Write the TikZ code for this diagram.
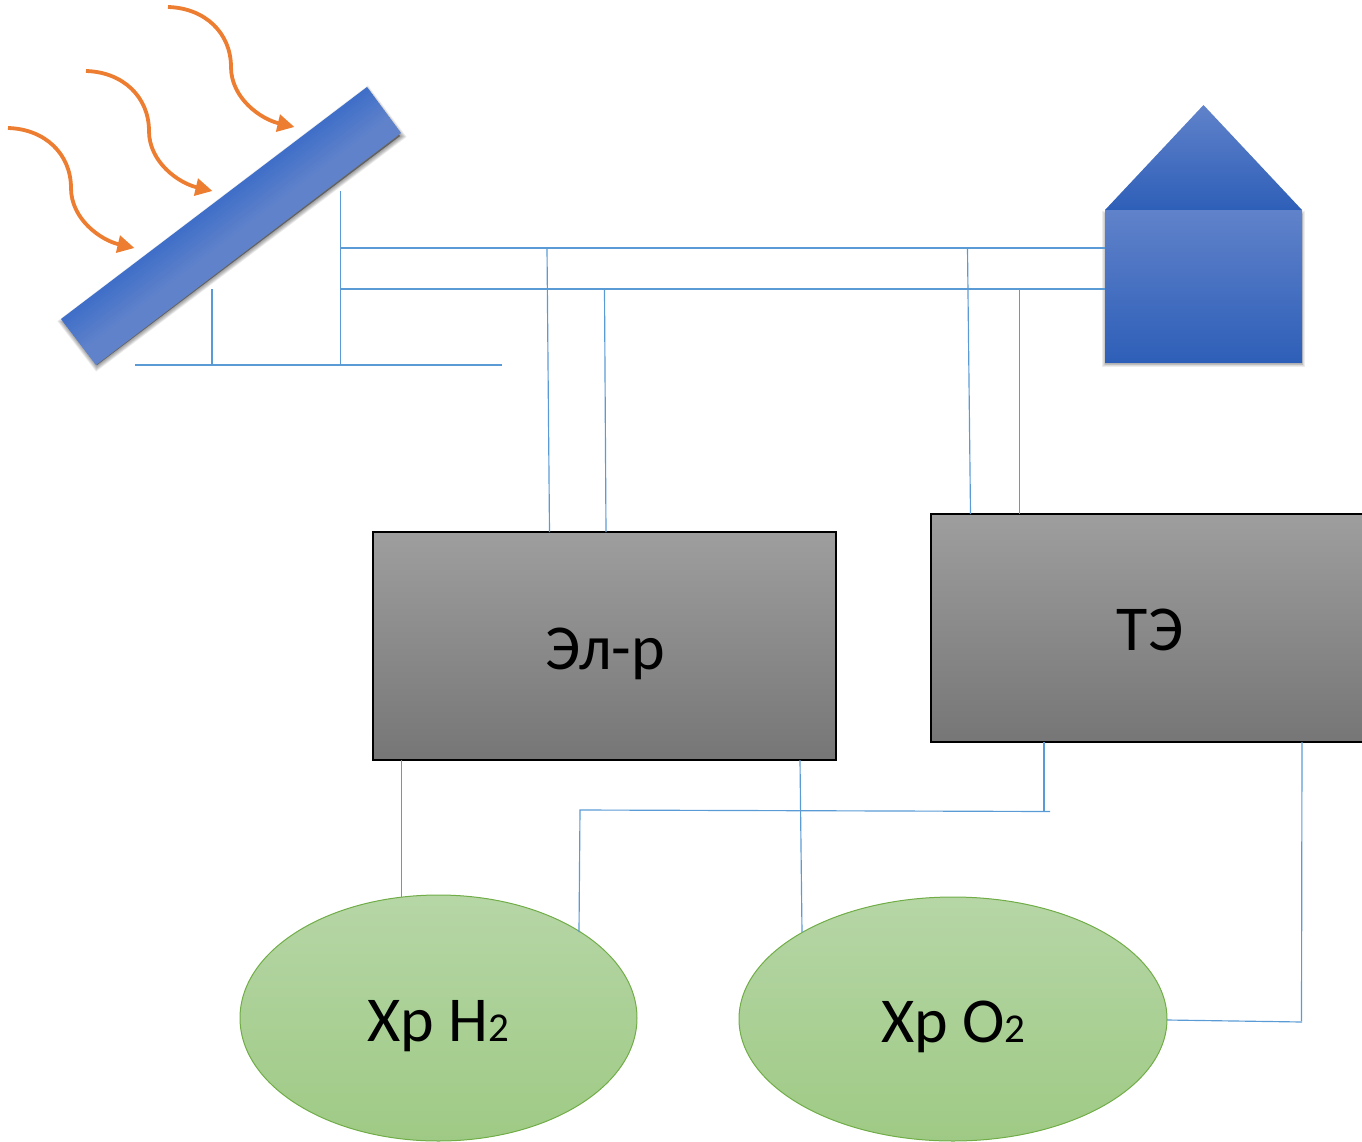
\documentclass[tikz,border=0pt]{standalone}
\usepackage{fontspec}
\setmainfont{Carlito}
\usetikzlibrary{arrows.meta,shapes.geometric,calc}
\definecolor{wire}{HTML}{5B9BD5}
\definecolor{ray}{HTML}{ED7D31}
\definecolor{blueA}{HTML}{6082CA}
\definecolor{blueB}{HTML}{3F6FC8}
\definecolor{blueC}{HTML}{2E5FB8}
\definecolor{grayA}{HTML}{9E9E9E}
\definecolor{grayB}{HTML}{767676}
\definecolor{greenA}{HTML}{B6D6A6}
\definecolor{greenB}{HTML}{9FCA85}
\definecolor{greenE}{HTML}{70AD47}
\tikzset{
  wirepath/.style={draw=wire,line width=0.58pt},
  raypath/.style={draw=ray,line width=1.9pt,-{Triangle[length=8.5pt,width=8.5pt]}},
  block/.style={draw=black,line width=0.55pt,rectangle,inner sep=0pt,top color=grayA,bottom color=grayB},
  tank/.style={draw=greenE,line width=0.5pt,ellipse,inner sep=0pt,top color=greenA,bottom color=greenB},
  softshadow/.style={draw=black,fill=black,opacity=0.07,line join=miter},
  bigtext/.style={font=\fontsize{32}{32}\selectfont}
}
\newcommand{\subtwo}{{\fontsize{20.5}{20.5}\selectfont 2}}
\begin{document}
\begin{tikzpicture}[x=0.5pt,y=-0.5pt]
\useasboundingbox (0,0) rectangle (1362,1142);
% panel and house shadows
\foreach \w in {0.5,2,3.5,5,6.5,8,9.5}{
  \path[softshadow,line width=\w*0.5pt] (367,92) -- (400,136) -- (97,365) -- (64,322) -- cycle;
  \path[softshadow,line width=\w*0.5pt] (1107,216) -- (1300,216) -- (1300,362) -- (1107,362) -- cycle;
}
% panel: colour bands across its thickness
\coordinate (pa) at (61,319);
\coordinate (pb) at (367,87);
\coordinate (pc) at (401,133);
\coordinate (pd) at (96,365);
\foreach \i in {0,...,19}{
  \pgfmathsetmacro{\ta}{\i/20}
  \pgfmathsetmacro{\tb}{min(1,(\i+1.4)/20)}
  \pgfmathsetmacro{\mix}{max(0,100-\i*100/13)}
  \fill[fill=blueB!\mix!blueA]
    ($(pa)!\ta!(pd)$) -- ($(pb)!\ta!(pc)$) -- ($(pb)!\tb!(pc)$) -- ($(pa)!\tb!(pd)$) -- cycle;
}
% rays
\foreach \dx/\dy/\n in {0/0/a,78/-57/b,160/-121/c}{
  \coordinate (rs\n) at (8+\dx,128+\dy);
  \coordinate (rm\n) at (71+\dx,188+\dy);
  \coordinate (re\n) at (134.5+\dx,248+\dy);
  \draw[raypath] (rs\n) .. controls +(37,1) and +(0,-34) .. (rm\n)
                 .. controls +(0,31) and +(-34,-8) .. (re\n);
}
% house
\shade[top color=blueA,bottom color=blueC] (1203.5,105) -- (1302,210) -- (1105,210) -- cycle;
\node[rectangle,inner sep=0pt,minimum width=98.5pt,minimum height=76pt,top color=blueA,bottom color=blueC] (house) at (1203.5,286) {};
% blocks
\node[block,minimum width=231.5pt,minimum height=114pt] (elr) at (604.5,646) {};
\node[bigtext] (elrtext) at (605,654) {Эл-р};
\node[block,minimum width=216.5pt,minimum height=114pt] (te) at (1147.5,628) {};
\node[bigtext] (tetext) at (1150,630) {ТЭ};
% tanks
\node[tank,minimum width=198.5pt,minimum height=123pt] (h2) at (438.5,1018) {};
\node[bigtext] (h2text) at (438.5,1026) {Хр H\subtwo};
\node[tank,minimum width=214pt,minimum height=122pt] (o2) at (953,1019) {};
\node[bigtext] (o2text) at (953.5,1027) {Хр O\subtwo};
% junction coordinates
\coordinate (mastTop) at (340.5,191);
\coordinate (mastFoot) at (340.5,365);
\coordinate (baseL) at (135,365);
\coordinate (baseR) at (502,365);
\coordinate (legTop) at (212,289);
\coordinate (legFoot) at (212,365);
\coordinate (busAL) at (340.5,248);
\coordinate (busBL) at (340.5,289);
\coordinate (busAa) at (547,248);
\coordinate (busBa) at (604.5,289);
\coordinate (busAb) at (967.5,248);
\coordinate (busBb) at (1019.5,289);
\coordinate (elrA) at (549.5,532);
\coordinate (elrB) at (606,532);
\coordinate (teA) at (970.5,514);
\coordinate (teB) at (1019.5,514);
\coordinate (elrC) at (401.5,760);
\coordinate (elrD) at (800,760);
\coordinate (h2A) at (401.5,897);
\coordinate (o2A) at (802,932);
\coordinate (h2B) at (579,932);
\coordinate (cornerL) at (580,810);
\coordinate (cornerR) at (1050,811.5);
\coordinate (teC) at (1044,742);
\coordinate (teCf) at (1044,811.5);
\coordinate (teD) at (1302,742);
\coordinate (elbow) at (1301.5,1021);
\coordinate (o2B) at (1167,1020);
\coordinate (elbowEnd) at (1302,1022);
\coordinate (houseA) at (1105,248);
\coordinate (houseB) at (1105,289);
% connectors
\draw[wirepath] (mastTop) -- (mastFoot);
\draw[wirepath] (baseL) -- (baseR);
\draw[wirepath] (legTop) -- (legFoot);
\draw[wirepath] (busAL) -- (houseA);
\draw[wirepath] (busBL) -- (houseB);
\draw[wirepath] (busAa) -- (elrA);
\draw[wirepath] (busBa) -- (elrB);
\draw[wirepath] (busAb) -- (teA);
\draw[wirepath] (busBb) -- (teB);
\draw[wirepath] (elrC) -- (h2A);
\draw[wirepath] (elrD) -- (o2A);
\draw[wirepath] (h2B) -- (cornerL) -- (cornerR);
\draw[wirepath] (teC) -- (teCf);
\draw[wirepath] (teD) -- (elbow);
\draw[wirepath] (o2B) -- (elbowEnd);
\end{tikzpicture}
\end{document}
